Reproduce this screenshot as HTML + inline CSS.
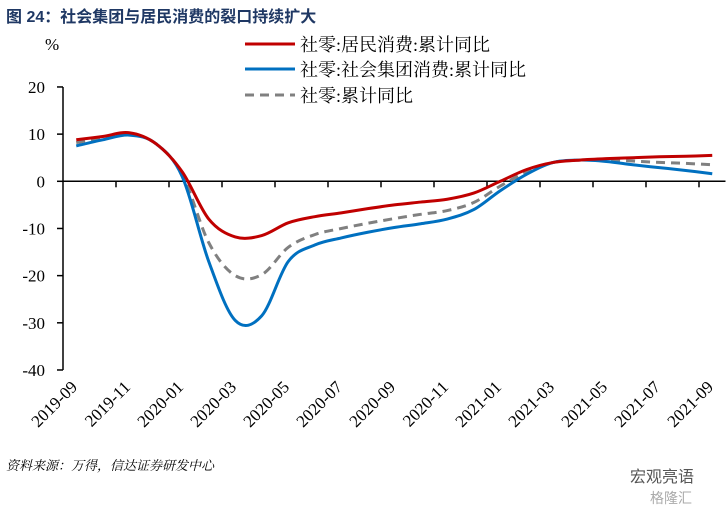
<!DOCTYPE html>
<html><head><meta charset="utf-8"><style>
body{margin:0;background:#fff;width:726px;height:511px;overflow:hidden}
svg text{font-family:"Liberation Serif","Noto Serif CJK SC",serif}
</style></head><body>
<svg width="726" height="511">
<text x="6" y="22" font-size="16" font-weight="bold" fill="#1f3864" style="font-family:'Liberation Sans','Noto Sans CJK SC',sans-serif">图 24：社会集团与居民消费的裂口持续扩大</text>
<text x="45" y="50" font-size="17">%</text>
<g>
<line x1="245" y1="44" x2="295" y2="44" stroke="#c00000" stroke-width="3"/>
<text x="300" y="51" font-size="18">社零:居民消费:累计同比</text>
<line x1="245" y1="69" x2="295" y2="69" stroke="#0070c0" stroke-width="3"/>
<text x="300" y="76" font-size="18">社零:社会集团消费:累计同比</text>
<line x1="245" y1="95" x2="295" y2="95" stroke="#808080" stroke-width="3" stroke-dasharray="9,6"/>
<text x="300" y="102" font-size="18">社零:累计同比</text>
</g>
<g id="axes"></g>
<g id="series"></g>
<text x="6" y="470" font-size="13" font-style="italic">资料来源：万得，信达证券研发中心</text>
<text x="630" y="482" font-size="16" fill="#555" style="font-family:'Noto Sans CJK SC',sans-serif">宏观亮语</text>
<text x="650" y="503" font-size="14" fill="#aaa" style="font-family:'Noto Sans CJK SC',sans-serif">格隆汇</text>
</svg>
<script>
const categories=["2019-09","2019-10","2019-11","2019-12","2020-01","2020-02","2020-03","2020-04","2020-05","2020-06","2020-07","2020-08","2020-09","2020-10","2020-11","2020-12","2021-01","2021-02","2021-03","2021-04","2021-05","2021-06","2021-07","2021-08","2021-09"];
const household=[8.8,9.5,10.3,8,2,-8,-11.8,-11.5,-8.8,-7.5,-6.7,-5.8,-5,-4.4,-3.8,-2.5,0,2.5,4,4.5,4.8,5,5.2,5.3,5.5];
const group=[7.5,8.8,9.8,8,1,-17,-29.5,-28.5,-17,-13.5,-12,-10.8,-9.8,-9,-8,-6,-2,1.5,4,4.5,4.2,3.5,2.9,2.3,1.6];
const total=[8.2,9.2,10,8,1.5,-13,-20,-19.8,-14,-11.3,-10,-8.9,-7.9,-7,-6.2,-4.5,-1,2,4,4.5,4.6,4.3,4,3.8,3.5];
const yTicks=[20,10,0,-10,-20,-30,-40];
const NS="http://www.w3.org/2000/svg";
const x0=63,band=26.5;
function xs(i){return x0+band*(i+0.5);}
function ys(v){return 181.3-v*4.717;}
function mk(t,a,p){const e=document.createElementNS(NS,t);for(const k in a)e.setAttribute(k,a[k]);p.appendChild(e);return e;}
const ax=document.getElementById('axes');
let l=mk('line',{x1:x0,y1:ys(20),x2:x0,y2:ys(-40),stroke:'#000','stroke-width':1.5},ax);


yTicks.forEach(v=>{
 const t=mk('line',{x1:x0-6,y1:ys(v),x2:x0,y2:ys(v),stroke:'#000','stroke-width':1.5},ax);
 
 
 const tx=mk('text',{x:45,y:ys(v)+6,'font-size':17,'text-anchor':'end'},ax);
 tx.textContent=v;
 
 
});
l=mk('line',{x1:x0,y1:ys(0),x2:x0+band*categories.length,y2:ys(0),stroke:'#000','stroke-width':1.5},ax);


categories.forEach((c,i)=>{
 if(i%2)return;
 if(i>0){const t=mk('line',{x1:x0+band*i,y1:ys(0),x2:x0+band*i,y2:ys(0)+6,stroke:'#000','stroke-width':1.5},ax);
 
 }
 const tx=mk('text',{x:xs(i)+2,y:388,'font-size':17,'text-anchor':'end',transform:`rotate(-45 ${xs(i)+2} 388)`},ax);
 tx.textContent=c;
 
 
});
function path(d){const p=d.map((v,i)=>[xs(i),ys(v)]);let s=`M${p[0][0]},${p[0][1]}`;
 for(let i=0;i<p.length-1;i++){const a=p[Math.max(i-1,0)],b=p[i],c=p[i+1],e=p[Math.min(i+2,p.length-1)];
 s+=` C${b[0]+(c[0]-a[0])/6},${b[1]+(c[1]-a[1])/6} ${c[0]-(e[0]-b[0])/6},${c[1]-(e[1]-b[1])/6} ${c[0]},${c[1]}`;}return s;}
const sg=document.getElementById('series');
let p=mk('path',{d:path(total),fill:'none',stroke:'#808080','stroke-width':3,'stroke-dasharray':'9,6'},sg);


p=mk('path',{d:path(group),fill:'none',stroke:'#0070c0','stroke-width':3},sg);


p=mk('path',{d:path(household),fill:'none',stroke:'#c00000','stroke-width':3},sg);


</script>
</body></html>
